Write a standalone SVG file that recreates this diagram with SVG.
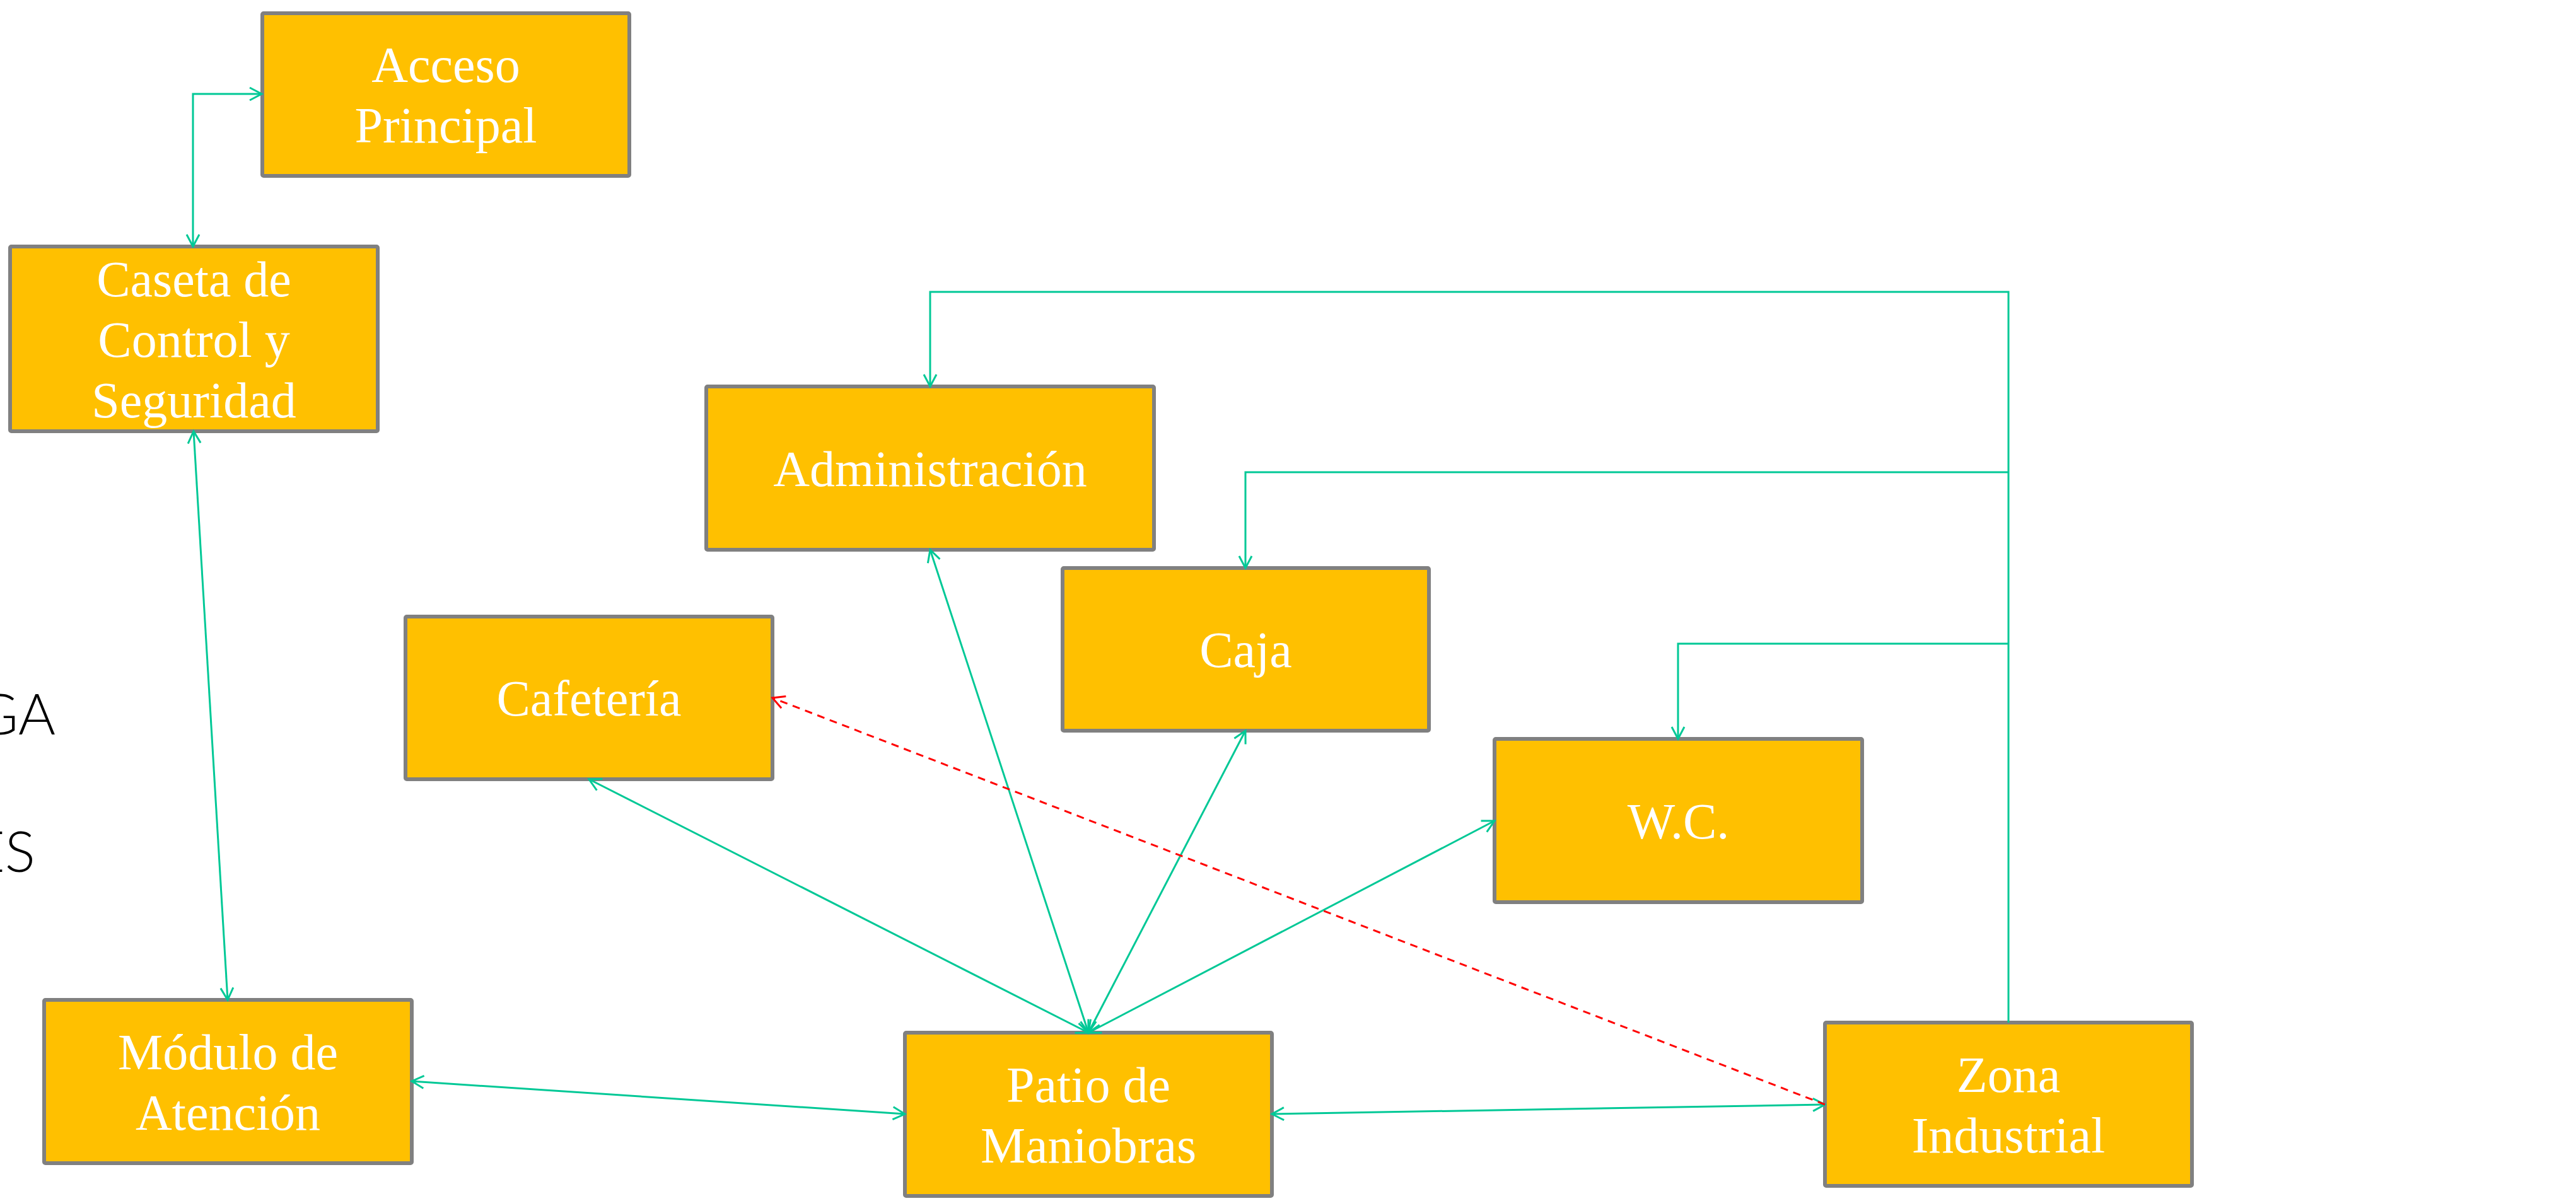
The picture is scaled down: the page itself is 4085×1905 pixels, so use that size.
<svg xmlns="http://www.w3.org/2000/svg" width="4085" height="1905" viewBox="0 0 4085 1905">
<style>
.box{fill:#FFC000;stroke:#808080;stroke-width:6}
.lbl{font-family:"Liberation Serif","Times New Roman",serif;font-size:80px;fill:#FFFFFF;text-anchor:middle}
.con{fill:none;stroke:#00C896;stroke-width:3}
.bi{marker-start:url(#ag);marker-end:url(#ag)}
.one{marker-end:url(#ag)}
.dash{fill:none;stroke:#FF0000;stroke-width:3;stroke-dasharray:12 9;marker-end:url(#ar)}
.side{font-family:Lato,"Open Sans",sans-serif;font-weight:300;font-size:90px;fill:#000000}
</style>
<defs>
<marker id="ag" markerUnits="userSpaceOnUse" markerWidth="26" markerHeight="26" viewBox="0 0 26 26" refX="22" refY="13" orient="auto-start-reverse">
<path d="M3,3 L22,13 L3,23" fill="none" stroke="#00C896" stroke-width="3"/>
</marker>
<marker id="ar" markerUnits="userSpaceOnUse" markerWidth="26" markerHeight="26" viewBox="0 0 26 26" refX="22" refY="13" orient="auto">
<path d="M3,3 L22,13 L3,23" fill="none" stroke="#FF0000" stroke-width="3"/>
</marker>
</defs>
<rect width="4085" height="1905" fill="#FFFFFF"/>
<text class="side" x="88" y="1165" text-anchor="end">GA</text>
<text class="side" x="56" y="1383" text-anchor="end">ES</text>
<g id="nodes">
<g id="acceso"><rect class="box" x="416" y="21" width="582" height="258" rx="2"/><text class="lbl" x="707" y="130">Acceso</text><text class="lbl" x="707" y="226">Principal</text></g>
<g id="caseta"><rect class="box" x="16" y="391" width="583" height="293" rx="2"/><text class="lbl" x="307.5" y="470">Caseta de</text><text class="lbl" x="307.5" y="566">Control y</text><text class="lbl" x="307.5" y="662">Seguridad</text></g>
<g id="administracion"><rect class="box" x="1120" y="613" width="710" height="259" rx="2"/><text class="lbl" x="1475" y="771">Administración</text></g>
<g id="caja"><rect class="box" x="1685" y="901" width="581" height="258" rx="2"/><text class="lbl" x="1975.5" y="1058">Caja</text></g>
<g id="cafeteria"><rect class="box" x="643" y="978" width="582" height="258" rx="2"/><text class="lbl" x="934" y="1135">Cafetería</text></g>
<g id="wc"><rect class="box" x="2370" y="1172" width="583" height="259" rx="2"/><text class="lbl" x="2661.5" y="1330">W.C.</text></g>
<g id="modulo"><rect class="box" x="70" y="1586" width="583" height="259" rx="2"/><text class="lbl" x="361.5" y="1696">Módulo de</text><text class="lbl" x="361.5" y="1792">Atención</text></g>
<g id="patio"><rect class="box" x="1435" y="1638" width="582" height="259" rx="2"/><text class="lbl" x="1726" y="1748">Patio de</text><text class="lbl" x="1726" y="1844">Maniobras</text></g>
<g id="zona"><rect class="box" x="2894" y="1622" width="582" height="259" rx="2"/><text class="lbl" x="3185" y="1732">Zona</text><text class="lbl" x="3185" y="1828">Industrial</text></g>
</g>
<g id="connectors">
<path class="con bi" d="M415,149 H306 V391"/>
<path class="con bi" d="M307,684 L361,1586"/>
<path class="con bi" d="M653,1715 L1435,1767"/>
<path class="con bi" d="M2017,1767 L2894,1752"/>
<path class="con bi" d="M1726,1638 L934,1236"/>
<path class="con bi" d="M1726,1638 L1475,872"/>
<path class="con bi" d="M1726,1638 L1975,1159"/>
<path class="con bi" d="M1726,1638 L2370,1302"/>
<path class="con one" d="M3185,1622 V463 H1475 V613"/>
<path class="con one" d="M3185,749 H1975 V901"/>
<path class="con one" d="M3185,1021 H2661 V1172"/>
<path class="dash" d="M2894,1752 L1225,1107"/>
</g>
</svg>
